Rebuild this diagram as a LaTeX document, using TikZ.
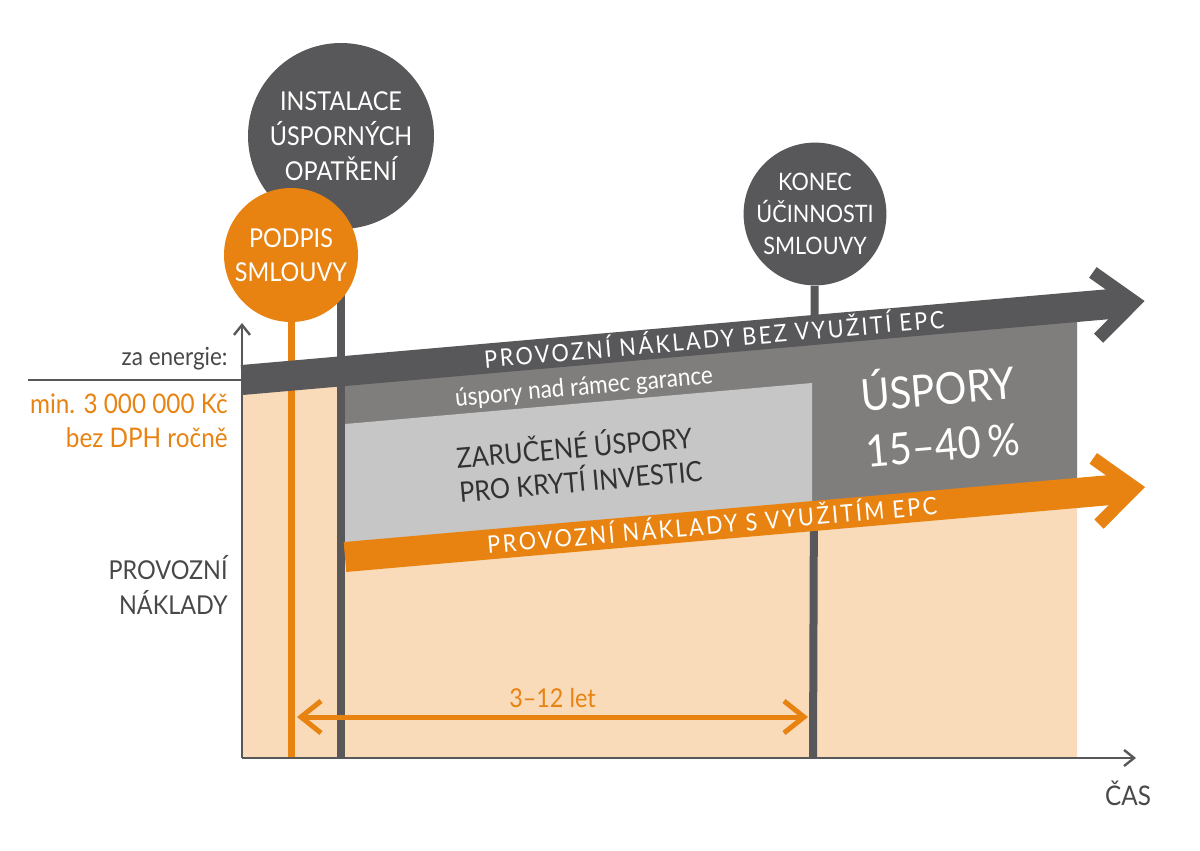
\documentclass[tikz,border=0pt]{standalone}
\usepackage{fontspec}
\setmainfont{Lato}[FakeStretch=0.9]
\newfontfamily\bandfont{Lato}[FakeStretch=0.9,LetterSpace=10.5]
\usetikzlibrary{arrows.meta}
\definecolor{tmava}{RGB}{88,88,90}
\definecolor{stredni}{RGB}{127,126,125}
\definecolor{svetla}{RGB}{198,198,198}
\definecolor{oranz}{RGB}{232,131,18}
\definecolor{svoranz}{RGB}{249,219,185}
\definecolor{textgr}{RGB}{72,72,74}
\begin{document}
\begin{tikzpicture}[x=0.5pt, y=-0.5pt,
  kruh/.style={circle, inner sep=0pt, align=center, text=white, font=\fontsize{13}{17.5}\selectfont},
  sloup/.style={line width=4pt, tmava},
  pas/.style={line width=15pt},
  hrot/.style={line width=6.5pt, miter limit=10},
  osa/.style={line width=1.2pt, tmava, -{Straight Barb[length=5pt,width=8pt]}},
  popis/.style={inner sep=0pt, text=textgr}]
\useasboundingbox (0,0) rectangle (1200,851);
\fill[svoranz] (242,758) -- (242,380) -- (1077,307) -- (1077,758) -- cycle;
% milestones
\node[kruh, fill=tmava, minimum size=93pt] (instal) at (341,136) {INSTALACE\\ÚSPORNÝCH\\OPATŘENÍ};
\coordinate (k1) at (341,758);
\draw[sloup] (instal) -- (k1);
\node[kruh, fill=oranz, minimum size=67pt, font=\fontsize{13}{17}\selectfont] (podpis) at (291,255) {PODPIS\\SMLOUVY};
\coordinate (k0) at (291,758);
\draw[line width=3.5pt, oranz] (podpis) -- (k0);
\node[kruh, fill=tmava, minimum size=68pt, font=\fontsize{12}{16}\selectfont] (konec) at (815,214) {KONEC\\ÚČINNOSTI\\SMLOUVY};
\coordinate (k2) at (813,758);
\draw[sloup] (konec) -- (k2);
% savings areas
\fill[stredni] (345,372) -- (1077,308) -- (1077,493) -- (345,557) -- cycle;
\fill[svetla] (345,424) -- (812,383) -- (812,517) -- (345,557) -- cycle;
% cost bands
\begin{scope}[shift={(242,380)}, rotate=5]
\draw[pas, tmava] (0,0) -- (886,0);
\draw[hrot, tmava] (857,-33) -- (896,0) -- (857,33);
\end{scope}
\begin{scope}[shift={(345,557)}, rotate=5]
\draw[pas, oranz] (0,0) -- (783,0);
\draw[hrot, oranz] (754,-33) -- (793,0) -- (754,33);
\end{scope}
\node[text=white, rotate=5, font=\bandfont\fontsize{12}{14}\selectfont] (bez) at (714,337) {PROVOZNÍ NÁKLADY BEZ VYUŽITÍ EPC};
\node[text=white, rotate=5, font=\bandfont\fontsize{12}{14}\selectfont] (sepc) at (712,523) {PROVOZNÍ NÁKLADY S VYUŽITÍM EPC};
\node[text=white, rotate=5, inner sep=1pt, font=\fontsize{12.5}{14}\selectfont] (nad) at (584,388) {úspory nad rámec garance};
\node[text={rgb,255:red,50;green,50;blue,52}, rotate=5, inner sep=1pt, align=left, font=\fontsize{14}{17}\selectfont] (zar) at (579,462) {ZARUČENÉ ÚSPORY\\PRO KRYTÍ INVESTIC};
\node[text=white, rotate=5, align=center, font=\fontsize{22}{28}\selectfont] (usp) at (940,413) {ÚSPORY\\15–40\,\%};
% axes
\coordinate (o) at (242,758);
\coordinate (ytop) at (242,323);
\coordinate (xend) at (1136,758);
\coordinate (r0) at (28,380);
\coordinate (r1) at (242,380);
\draw[line width=1pt, tmava] (r0) -- (r1);
\draw[osa] (o) -- (ytop);
\draw[osa] (o) -- (xend);
\node[popis, anchor=base east, font=\fontsize{12.5}{14}\selectfont] (zaen) at (228,365) {za energie:};
\node[popis, anchor=east, align=right, text=oranz, font=\fontsize{13.5}{17}\selectfont] (minkc) at (228,421) {min. 3 000 000 Kč\\bez DPH ročně};
\node[popis, anchor=east, align=right, font=\fontsize{13}{17.5}\selectfont] (prov) at (228,585) {PROVOZNÍ\\NÁKLADY};
\node[popis, font=\fontsize{13.5}{16}\selectfont] (cas) at (1128,793) {ČAS};
% contract length
\coordinate (d1) at (297,717);
\coordinate (d2) at (808,717);
\draw[oranz, line width=2.5pt, {Straight Barb[length=10pt,width=16pt]}-{Straight Barb[length=10pt,width=16pt]}] (d1) -- node[above=3.5pt, inner sep=0pt, text=oranz, font=\fontsize{13}{15}\selectfont] (doba) {3–12 let} (d2);
\end{tikzpicture}
\end{document}
